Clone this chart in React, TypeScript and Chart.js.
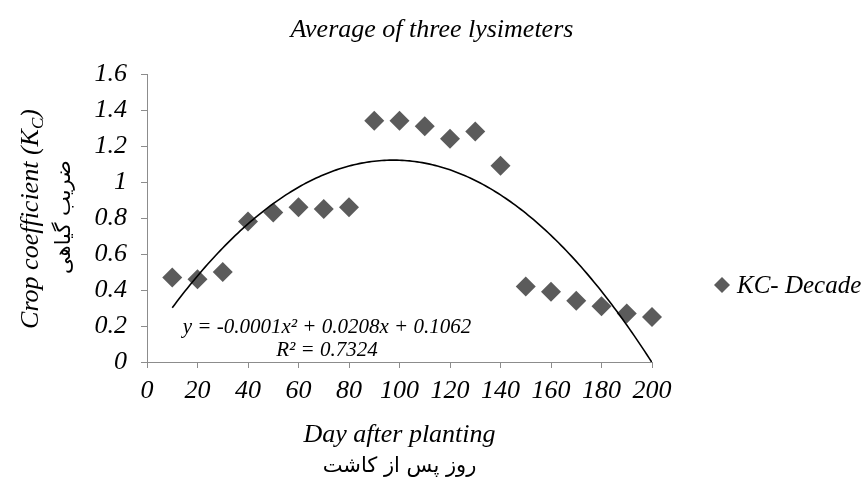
import React, { useEffect, useRef } from 'react';
import { Chart, registerables } from 'chart.js';

Chart.register(...registerables);

// ---- data ----
const days = [10, 20, 30, 40, 50, 60, 70, 80, 90, 100, 110, 120, 130, 140, 150, 160, 170, 180, 190, 200];
const kcDecade = [0.47, 0.46, 0.50, 0.78, 0.83, 0.86, 0.85, 0.86, 1.34, 1.34, 1.31, 1.24, 1.28, 1.09, 0.42, 0.39, 0.34, 0.31, 0.27, 0.25];
const xTickValues = [0, 20, 40, 60, 80, 100, 120, 140, 160, 180, 200];
const yTickValues = [0, 0.2, 0.4, 0.6, 0.8, 1, 1.2, 1.4, 1.6];

const chartTitle = 'Average of three lysimeters';
const xTitle = 'Day after planting';
const xTitleFa = 'روز پس از کاشت';
const yTitleMain = 'Crop coefficient (K';
const yTitleSub = 'C';
const yTitleEnd = ')';
const yTitleFa = 'ضریب گیاهی';
const seriesName = 'KC- Decade';
const equationText = 'y = -0.0001x² + 0.0208x + 0.1062';
const r2Text = 'R² = 0.7324';

// least-squares quadratic fit from the data
function quadFit(xs: number[], ys: number[]) {
  let s0 = 0, s1 = 0, s2 = 0, s3 = 0, s4 = 0, t0 = 0, t1 = 0, t2 = 0;
  for (let i = 0; i < xs.length; i++) {
    const x = xs[i], y = ys[i];
    s0 += 1; s1 += x; s2 += x * x; s3 += x * x * x; s4 += x * x * x * x;
    t0 += y; t1 += x * y; t2 += x * x * y;
  }
  const M = [
    [s4, s3, s2, t2],
    [s3, s2, s1, t1],
    [s2, s1, s0, t0],
  ];
  for (let c = 0; c < 3; c++) {
    let p = c;
    for (let r = c + 1; r < 3; r++) if (Math.abs(M[r][c]) > Math.abs(M[p][c])) p = r;
    [M[c], M[p]] = [M[p], M[c]];
    for (let r = 0; r < 3; r++) {
      if (r === c) continue;
      const f = M[r][c] / M[c][c];
      for (let k = c; k < 4; k++) M[r][k] -= f * M[c][k];
    }
  }
  return { a: M[0][3] / M[0][0], b: M[1][3] / M[1][1], c: M[2][3] / M[2][2] };
}

const SERIF = '"Liberation Serif", "Times New Roman", serif';
const FA = '"DejaVu Sans", sans-serif';
const MARK = '#5b5b5b';
const AXIS = '#8c8c8c';

const textPlugin = {
  id: 'texts',
  afterDraw(chart: any) {
    const ctx = chart.ctx as CanvasRenderingContext2D;
    const area = chart.chartArea;
    const cx = (area.left + area.right) / 2;
    ctx.save();
    ctx.fillStyle = '#000';
    ctx.textBaseline = 'alphabetic';

    // title
    ctx.font = `italic 26px ${SERIF}`;
    ctx.textAlign = 'center';
    ctx.fillText(chartTitle, 432, 37);

    // x titles
    ctx.font = `italic 26px ${SERIF}`;
    ctx.fillText(xTitle, cx, 442);
    ctx.font = `21px ${FA}`;
    ctx.fillText(xTitleFa, cx, 472);

    // y title (rotated)
    ctx.save();
    ctx.translate(38, 219);
    ctx.rotate(-Math.PI / 2);
    ctx.font = `italic 26px ${SERIF}`;
    const w1 = ctx.measureText(yTitleMain).width;
    ctx.font = `italic 17px ${SERIF}`;
    const w2 = ctx.measureText(yTitleSub).width;
    ctx.font = `italic 26px ${SERIF}`;
    const w3 = ctx.measureText(yTitleEnd).width;
    let x0 = -(w1 + w2 + w3) / 2;
    ctx.textAlign = 'left';
    ctx.fillText(yTitleMain, x0, 0);
    x0 += w1;
    ctx.font = `italic 17px ${SERIF}`;
    ctx.fillText(yTitleSub, x0, 5);
    x0 += w2;
    ctx.font = `italic 26px ${SERIF}`;
    ctx.fillText(yTitleEnd, x0, 0);
    ctx.restore();

    ctx.save();
    ctx.translate(70, 217);
    ctx.rotate(-Math.PI / 2);
    ctx.font = `21px ${FA}`;
    ctx.textAlign = 'center';
    ctx.fillText(yTitleFa, 0, 0);
    ctx.restore();

    // equation
    ctx.textAlign = 'center';
    ctx.font = `italic 21px ${SERIF}`;
    ctx.fillText(equationText, 327, 333);
    ctx.fillText(r2Text, 327, 356);

    // legend
    const lx = 722, ly = 285, r = 8;
    ctx.fillStyle = MARK;
    ctx.beginPath();
    ctx.moveTo(lx, ly - r);
    ctx.lineTo(lx + r, ly);
    ctx.lineTo(lx, ly + r);
    ctx.lineTo(lx - r, ly);
    ctx.closePath();
    ctx.fill();
    ctx.fillStyle = '#000';
    ctx.textAlign = 'left';
    ctx.font = `italic 25px ${SERIF}`;
    ctx.fillText(seriesName, 737, ly + 8);

    ctx.restore();
  },
};

export default function App() {
  const ref = useRef<HTMLCanvasElement | null>(null);

  useEffect(() => {
    document.body.style.margin = '0';
    const canvas = ref.current;
    if (!canvas) return;
    const fit = quadFit(days, kcDecade);
    const trend: { x: number; y: number }[] = [];
    for (let x = days[0]; x <= days[days.length - 1]; x += 1) {
      trend.push({ x, y: fit.a * x * x + fit.b * x + fit.c });
    }

    const chart = new Chart(canvas, {
      type: 'scatter',
      data: {
        datasets: [
          {
            label: 'trend',
            data: trend,
            showLine: true,
            borderColor: '#000',
            borderWidth: 1.6,
            pointRadius: 0,
            fill: false,
            order: 0,
          } as any,
          {
            label: seriesName,
            data: days.map((d, i) => ({ x: d, y: kcDecade[i] })),
            pointStyle: 'rectRot',
            pointRadius: 10,
            backgroundColor: MARK,
            borderColor: MARK,
            borderWidth: 0,
            showLine: false,
            clip: false,
            order: 1,
          } as any,
        ],
      },
      plugins: [textPlugin],
      options: {
        animation: false,
        responsive: false,
        maintainAspectRatio: false,
        layout: { padding: { top: 74, right: 215, left: 0, bottom: 0 } },
        plugins: {
          legend: { display: false },
          title: { display: false },
          tooltip: { enabled: false },
        },
        scales: {
          x: {
            type: 'linear',
            min: 0,
            max: 200,
            afterBuildTicks: (s: any) => { s.ticks = xTickValues.map((v) => ({ value: v })); },
            afterFit: (s: any) => { s.height = 122; },
            ticks: {
              color: '#000',
              font: { family: SERIF, size: 26, style: 'italic' },
              padding: 8,
              maxRotation: 0,
              autoSkip: false,
            },
            grid: { drawOnChartArea: false, drawTicks: true, tickLength: 6, color: AXIS },
            border: { display: true, color: AXIS, width: 1 },
          },
          y: {
            type: 'linear',
            min: 0,
            max: 1.6,
            afterBuildTicks: (s: any) => { s.ticks = yTickValues.map((v) => ({ value: v })); },
            afterFit: (s: any) => { s.width = 147; },
            ticks: {
              color: '#000',
              font: { family: SERIF, size: 26, style: 'italic' },
              padding: 14,
              autoSkip: false,
              callback: (v: any) => String(Math.round(Number(v) * 10) / 10),
            },
            grid: { drawOnChartArea: false, drawTicks: true, tickLength: 6, color: AXIS },
            border: { display: true, color: AXIS, width: 1 },
          },
        },
      },
    });
    return () => chart.destroy();
  }, []);

  return (
    <div style={{ width: 867, height: 484 }}>
      <canvas ref={ref} width={867} height={484} style={{ display: 'block', width: 867, height: 484 }} />
    </div>
  );
}
